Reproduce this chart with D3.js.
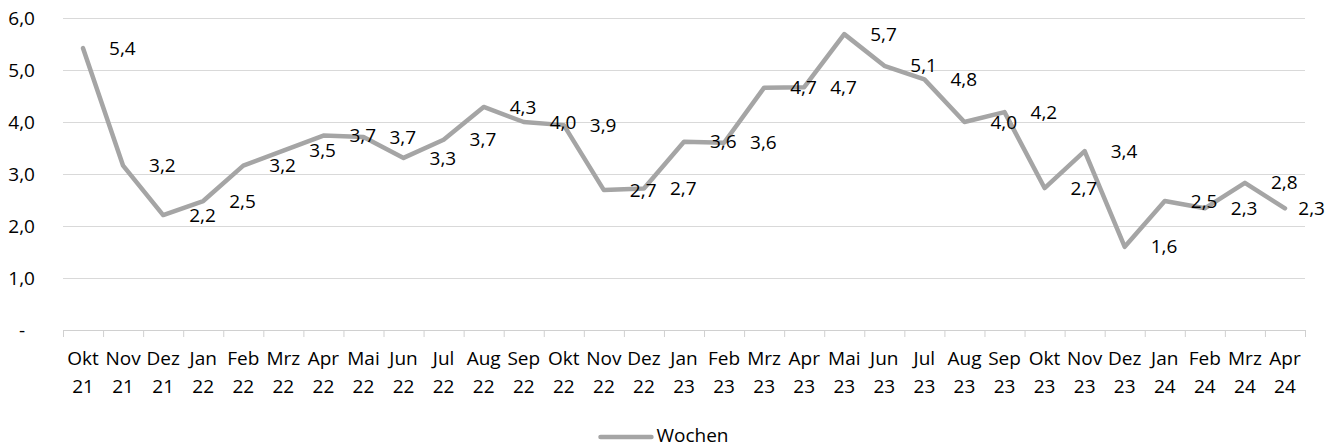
<!DOCTYPE html>
<html>
<head>
<meta charset="utf-8">
<script src="https://d3js.org/d3.v7.min.js"></script>
<style>
  body { margin: 0; background: #fff; }
  text { font-family: "Open Sans", sans-serif; fill: #000; }
</style>
</head>
<body>
<div id="chart"></div>
<script>
// chart data
var categories = ["Okt 21", "Nov 21", "Dez 21", "Jan 22", "Feb 22", "Mrz 22", "Apr 22", "Mai 22",
  "Jun 22", "Jul 22", "Aug 22", "Sep 22", "Okt 22", "Nov 22", "Dez 22", "Jan 23", "Feb 23",
  "Mrz 23", "Apr 23", "Mai 23", "Jun 23", "Jul 23", "Aug 23", "Sep 23", "Okt 23", "Nov 23",
  "Dez 23", "Jan 24", "Feb 24", "Mrz 24", "Apr 24"];
var wochen = [5.42, 3.16, 2.21, 2.48, 3.16, 3.45, 3.74, 3.71, 3.31, 3.66, 4.29, 4.0, 3.94, 2.69,
  2.72, 3.62, 3.6, 4.66, 4.67, 5.69, 5.08, 4.82, 4.0, 4.19, 2.73, 3.44, 1.6, 2.48, 2.34, 2.83, 2.34];
var yTicks = [0, 1, 2, 3, 4, 5, 6];
var seriesName = "Wochen";

var svgWidth = 1335;
var svgHeight = 447;
var fontSize = 19;

var margin = { top: 18, right: 30, bottom: 117, left: 63 };
var width = svgWidth - margin.left - margin.right;
var height = svgHeight - margin.top - margin.bottom;

var de = d3.formatLocale({ decimal: ",", thousands: ".", grouping: [3], currency: ["", " €"] });
var fmt = de.format(".1f");

var svg = d3.select("#chart")
  .append("svg")
  .attr("width", svgWidth)
  .attr("height", svgHeight);

var chartGroup = svg.append("g")
  .attr("transform", `translate(${margin.left}, ${margin.top})`);

// scales
var xBand = d3.scaleBand()
  .domain(categories)
  .range([0, width]);

var xEdges = d3.scaleLinear()
  .domain([0, categories.length])
  .range([0, width]);

var yLinearScale = d3.scaleLinear()
  .domain([0, 6])
  .range([height, 0]);

// y axis + gridlines
var leftAxis = d3.axisLeft(yLinearScale)
  .tickValues(yTicks)
  .tickSize(-width)
  .tickPadding(28)
  .tickFormat(d => d === 0 ? "-" : fmt(d));

var yAxis = chartGroup.append("g").call(leftAxis);
yAxis.select(".domain").remove();
yAxis.selectAll("line").attr("stroke", "#d9d9d9").attr("stroke-width", 1);
yAxis.selectAll("text")
  .attr("font-size", fontSize)
  .attr("font-family", "Open Sans, sans-serif")
  .attr("fill", "#000")
  .filter(d => d === 0)
  .attr("x", -38);

// x axis line with boundary ticks
var edgeAxis = d3.axisBottom(xEdges)
  .tickValues(d3.range(categories.length + 1))
  .tickSize(7)
  .tickFormat("");

var xAxis = chartGroup.append("g")
  .attr("transform", `translate(0, ${height})`)
  .call(edgeAxis);
xAxis.select(".domain").attr("stroke", "#d0d0d0");
xAxis.selectAll("line").attr("stroke", "#d0d0d0");

// category labels (two lines)
var labelAxis = chartGroup.append("g")
  .attr("transform", `translate(0, ${height})`)
  .call(d3.axisBottom(xBand).tickSize(0).tickFormat(""));
labelAxis.select(".domain").remove();

labelAxis.selectAll(".tick").append("text")
  .attr("text-anchor", "middle")
  .attr("font-size", fontSize)
  .attr("fill", "#000")
  .each(function(d) {
    var parts = d.split(" ");
    var t = d3.select(this);
    t.append("tspan").attr("x", 0).attr("y", 35).text(parts[0]);
    t.append("tspan").attr("x", 0).attr("y", 63).text(parts[1]);
  });

// line
var xPos = (d, i) => xBand(categories[i]) + xBand.bandwidth() / 2;

var line = d3.line()
  .x(xPos)
  .y(d => yLinearScale(d));

chartGroup.append("path")
  .datum(wochen)
  .attr("fill", "none")
  .attr("stroke", "#a5a5a5")
  .attr("stroke-width", 4.5)
  .attr("stroke-linejoin", "round")
  .attr("stroke-linecap", "round")
  .attr("d", line);

// data labels, right of each point, kept inside the chart area
var maxRight = svgWidth - 10 - margin.left;
chartGroup.selectAll("text.dlabel")
  .data(wochen)
  .enter()
  .append("text")
  .attr("class", "dlabel")
  .attr("font-size", fontSize)
  .attr("dy", "0.35em")
  .attr("y", d => yLinearScale(d))
  .attr("x", (d, i) => xPos(d, i) + 26)
  .text(d => fmt(d))
  .each(function() {
    var t = d3.select(this);
    var w = this.getComputedTextLength();
    var x = +t.attr("x");
    if (x + w > maxRight) t.attr("x", maxRight - w);
  });

// legend
var legend = svg.append("g");
var legendText = legend.append("text")
  .attr("font-size", fontSize)
  .attr("y", 442)
  .text(seriesName);
var tw = legendText.node().getComputedTextLength();
var lx = svgWidth / 2 - (51 + 5 + tw) / 2 - 3;
legend.append("line")
  .attr("x1", lx)
  .attr("x2", lx + 51)
  .attr("y1", 437)
  .attr("y2", 437)
  .attr("stroke", "#a5a5a5")
  .attr("stroke-width", 4.5)
  .attr("stroke-linecap", "round");
legendText.attr("x", lx + 56);
</script>
</body>
</html>
